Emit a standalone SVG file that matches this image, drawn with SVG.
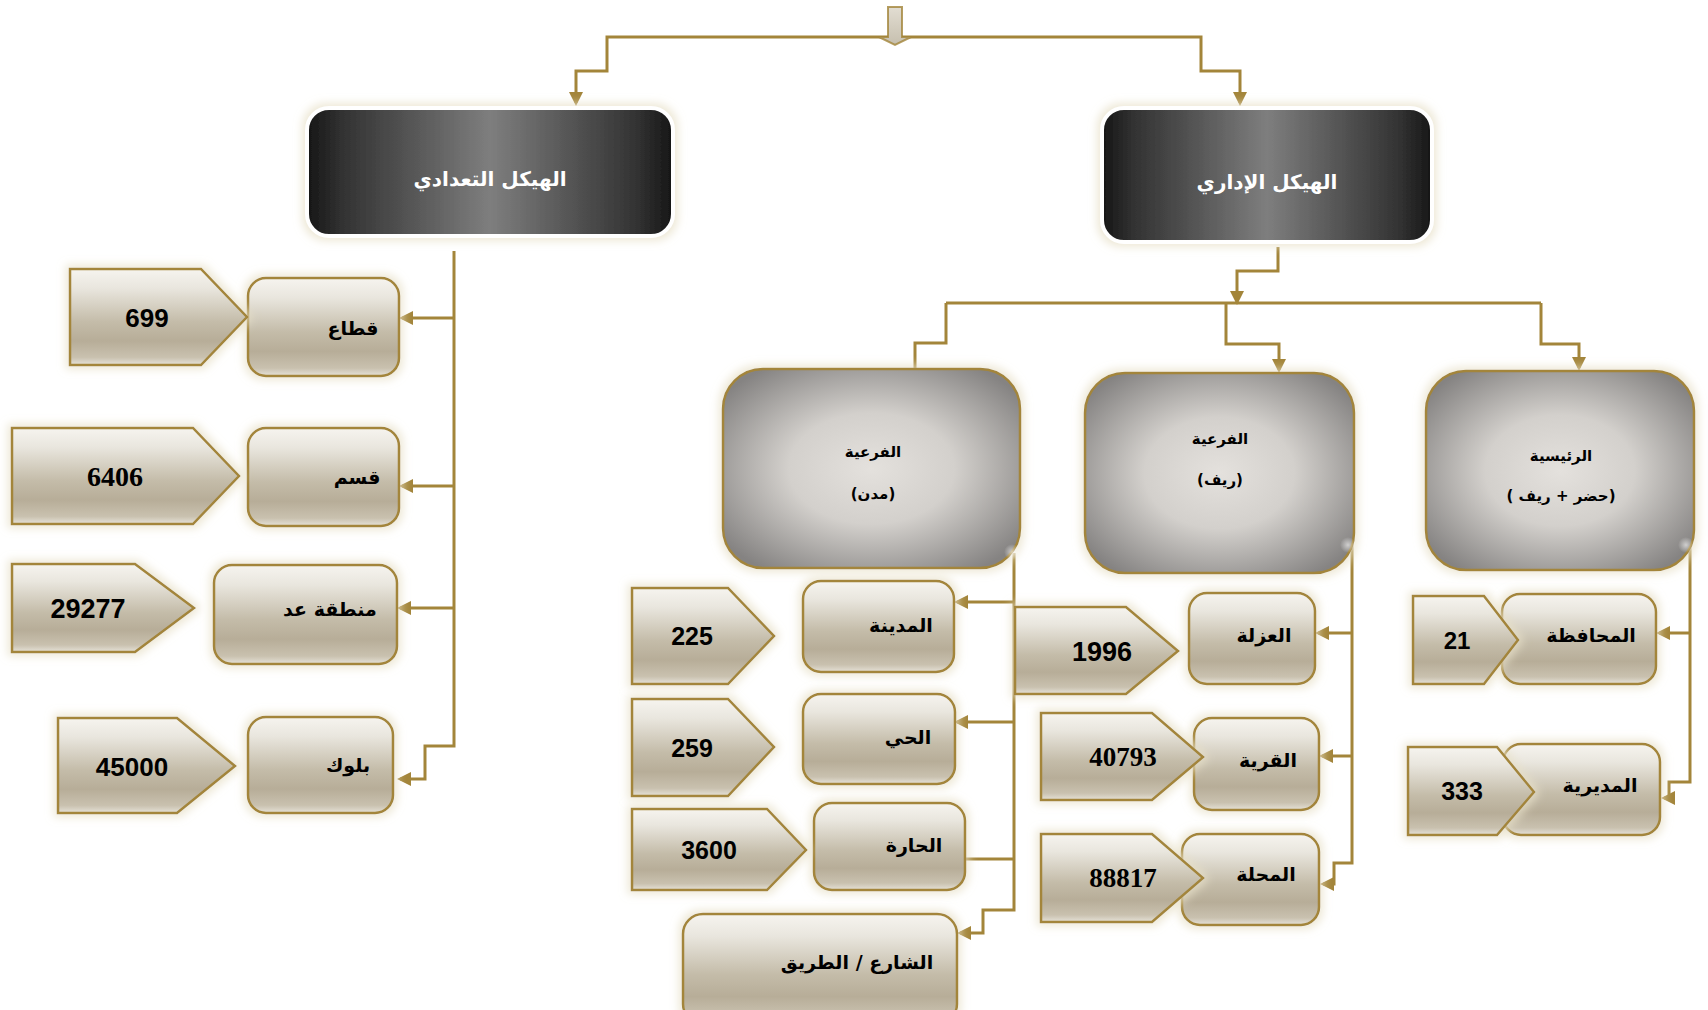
<svg xmlns="http://www.w3.org/2000/svg" width="1708" height="1010" viewBox="0 0 1708 1010">
<defs>
<linearGradient id="lg" x1="0" y1="0" x2="0" y2="1">
<stop offset="0" stop-color="#f6f4ef"/><stop offset="0.2" stop-color="#e9e6de"/><stop offset="0.55" stop-color="#c4bca9"/><stop offset="0.75" stop-color="#b7ad98"/><stop offset="0.92" stop-color="#c9c1af"/><stop offset="1" stop-color="#e6e2d8"/>
</linearGradient>
<linearGradient id="bg" x1="0" y1="0" x2="1" y2="0">
<stop offset="0" stop-color="#161616"/><stop offset="0.1" stop-color="#333"/><stop offset="0.5" stop-color="#7e7e7e"/><stop offset="0.9" stop-color="#333"/><stop offset="1" stop-color="#161616"/>
</linearGradient>
<radialGradient id="gg" cx="0.5" cy="0.5" r="0.62">
<stop offset="0" stop-color="#e4e1dd"/><stop offset="0.45" stop-color="#d3d0cc"/><stop offset="1" stop-color="#858382"/>
</radialGradient>
<radialGradient id="spot" cx="0.5" cy="0.5" r="0.5">
<stop offset="0" stop-color="#ffffff" stop-opacity="0.6"/><stop offset="1" stop-color="#ffffff" stop-opacity="0"/>
</radialGradient>
<linearGradient id="topg" x1="0" y1="0" x2="0" y2="1">
<stop offset="0" stop-color="#e2ddd2"/><stop offset="1" stop-color="#c6bfae"/>
</linearGradient>
<filter id="glow" x="-20%" y="-20%" width="140%" height="140%">
<feMorphology in="SourceAlpha" operator="dilate" radius="3" result="d"/>
<feGaussianBlur in="d" stdDeviation="4" result="b"/>
<feFlood flood-color="#e8e1c9" flood-opacity="0.75"/>
<feComposite in2="b" operator="in" result="g"/>
<feMerge><feMergeNode in="g"/><feMergeNode in="SourceGraphic"/></feMerge>
</filter>
<marker id="ah" viewBox="0 0 14 14" refX="11" refY="7" markerWidth="14" markerHeight="14" orient="auto" markerUnits="userSpaceOnUse">
<path d="M0,0 L14,7 L0,14 z" fill="#a3853a"/>
</marker>
<style>
.ln{fill:none;stroke:#a3853a;stroke-width:3}
.lb{fill:url(#lg);stroke:#a3853a;stroke-width:2.5;filter:url(#glow)}
.gb{fill:url(#gg);stroke:#a3853a;stroke-width:2.5;filter:url(#glow)}
.bb{fill:url(#bg);stroke:#ffffff;stroke-width:4;filter:url(#glow)}
.ar{font-family:"DejaVu Sans",sans-serif;font-weight:bold;fill:#000;text-anchor:middle;direction:rtl}
.tt{font-family:"DejaVu Sans",sans-serif;font-weight:bold;fill:#fff;text-anchor:middle;font-size:20px;direction:rtl}
.ns{font-family:"Liberation Sans",Arial,sans-serif;font-weight:bold;fill:#000;text-anchor:middle}
.nr{font-family:"Liberation Serif","Times New Roman",serif;font-weight:bold;fill:#000;text-anchor:middle}
</style>
</defs>
<rect width="1708" height="1010" fill="#ffffff"/>

<g id="connectors">
<path class="ln" d="M895,37 H607 V71 H576 V103" marker-end="url(#ah)"/>
<path class="ln" d="M895,37 H1201 V71 H1240 V103" marker-end="url(#ah)"/>
<path class="ln" d="M454,251 V746 H425 V779 H400" marker-end="url(#ah)"/>
<path class="ln" d="M454,318 H402" marker-end="url(#ah)"/>
<path class="ln" d="M454,486 H402" marker-end="url(#ah)"/>
<path class="ln" d="M454,608 H400" marker-end="url(#ah)"/>
<path class="ln" d="M1278,247 V271 H1237 V302" marker-end="url(#ah)"/>
<path class="ln" d="M946,303 H1541"/>
<path class="ln" d="M946,303 V343 H915 V369"/>
<path class="ln" d="M1226,303 V344 H1279 V370" marker-end="url(#ah)"/>
<path class="ln" d="M1541,303 V344 H1579 V368" marker-end="url(#ah)"/>
<path class="ln" d="M1014,553 V910 H983 V933 H960" marker-end="url(#ah)"/>
<path class="ln" d="M1014,602 H957" marker-end="url(#ah)"/>
<path class="ln" d="M1014,722 H957" marker-end="url(#ah)"/>
<path class="ln" d="M1014,859 H965"/>
<path class="ln" d="M1352,543 V863 H1334 V884 H1323" marker-end="url(#ah)"/>
<path class="ln" d="M1352,633 H1318" marker-end="url(#ah)"/>
<path class="ln" d="M1352,756 H1322" marker-end="url(#ah)"/>
<path class="ln" d="M1690,543 V782 H1669 V798 H1664" marker-end="url(#ah)"/>
<path class="ln" d="M1690,633 H1659" marker-end="url(#ah)"/>
</g>

<g id="top-arrow">
<path d="M888,7 H902 V37 H911 L895,45 L879,37 H888 Z" fill="url(#topg)" stroke="#a3853a" stroke-width="2" stroke-opacity="0.8"/>
</g>

<g id="census">
<rect class="bb" x="307" y="108" width="366" height="128" rx="22"/>
<text class="tt" x="490" y="186">الهيكل التعدادي</text>
</g>
<g id="admin">
<rect class="bb" x="1102" y="108" width="330" height="134" rx="22"/>
<text class="tt" x="1267" y="189">الهيكل الإداري</text>
</g>

<g id="n-qitaa">
<rect class="lb" x="248" y="278" width="151" height="98" rx="18"/>
<text class="ar" x="353" y="335" font-size="19">قطاع</text>
</g>
<g id="v-699">
<polygon class="lb" points="70,269 201,269 247,317 201,365 70,365"/>
<text class="ns" x="147" y="327" font-size="26">699</text>
</g>
<g id="n-qism">
<rect class="lb" x="248" y="428" width="151" height="98" rx="18"/>
<text class="ar" x="357" y="484" font-size="19">قسم</text>
</g>
<g id="v-6406">
<polygon class="lb" points="12,428 193,428 239,476 193,524 12,524"/>
<text class="nr" x="115" y="486" font-size="28">6406</text>
</g>
<g id="n-mantiqa">
<rect class="lb" x="214" y="565" width="183" height="99" rx="18"/>
<text class="ar" x="330" y="616" font-size="19">منطقة عد</text>
</g>
<g id="v-29277">
<polygon class="lb" points="12,564 135,564 194,608 135,652 12,652"/>
<text class="ns" x="88" y="618" font-size="27">29277</text>
</g>
<g id="n-block">
<rect class="lb" x="248" y="717" width="145" height="96" rx="18"/>
<text class="ar" x="348" y="772" font-size="19">بلوك</text>
</g>
<g id="v-45000">
<polygon class="lb" points="58,718 177,718 235,766 177,813 58,813"/>
<text class="ns" x="132" y="776" font-size="26">45000</text>
</g>

<g id="g-mudun">
<rect class="gb" x="723" y="369" width="297" height="199" rx="40"/>
<text class="ar" x="873" y="457" font-size="15">الفرعية</text>
<text class="ar" x="873" y="499" font-size="15">(مدن)</text>
</g>
<g id="g-reef">
<rect class="gb" x="1085" y="373" width="269" height="200" rx="40"/>
<text class="ar" x="1220" y="444" font-size="15">الفرعية</text>
<text class="ar" x="1220" y="485" font-size="15">(ريف)</text>
</g>
<g id="g-main">
<rect class="gb" x="1426" y="371" width="268" height="199" rx="40"/>
<text class="ar" x="1561" y="461" font-size="15">الرئيسية</text>
<text class="ar" x="1561" y="501" font-size="15">(حضر + ريف )</text>
</g>
<circle cx="1012" cy="552" r="8" fill="url(#spot)"/>
<circle cx="1348" cy="545" r="8" fill="url(#spot)"/>
<circle cx="1686" cy="545" r="8" fill="url(#spot)"/>

<g id="n-madina">
<rect class="lb" x="803" y="581" width="151" height="91" rx="18"/>
<text class="ar" x="901" y="632" font-size="19">المدينة</text>
</g>
<g id="v-225">
<polygon class="lb" points="632,588 728,588 774,636 728,684 632,684"/>
<text class="ns" x="692" y="645" font-size="25">225</text>
</g>
<g id="n-hay">
<rect class="lb" x="803" y="694" width="152" height="90" rx="18"/>
<text class="ar" x="908" y="744" font-size="19">الحي</text>
</g>
<g id="v-259">
<polygon class="lb" points="632,699 728,699 774,747 728,796 632,796"/>
<text class="ns" x="692" y="757" font-size="25">259</text>
</g>
<g id="n-hara">
<rect class="lb" x="814" y="803" width="151" height="87" rx="18"/>
<text class="ar" x="914" y="852" font-size="19">الحارة</text>
</g>
<g id="v-3600">
<polygon class="lb" points="632,809 767,809 806,850 767,890 632,890"/>
<text class="ns" x="709" y="859" font-size="25">3600</text>
</g>
<g id="n-street">
<rect class="lb" x="683" y="914" width="274" height="110" rx="20"/>
<text class="ar" x="857" y="969" font-size="19">الشارع / الطريق</text>
</g>

<g id="n-uzla">
<rect class="lb" x="1189" y="593" width="126" height="91" rx="18"/>
<text class="ar" x="1264" y="642" font-size="19">العزلة</text>
</g>
<g id="v-1996">
<polygon class="lb" points="1015,607 1126,607 1178,651 1126,694 1015,694"/>
<text class="ns" x="1102" y="661" font-size="27">1996</text>
</g>
<g id="n-qarya">
<rect class="lb" x="1194" y="718" width="125" height="92" rx="18"/>
<text class="ar" x="1268" y="767" font-size="19">القرية</text>
</g>
<g id="v-40793">
<polygon class="lb" points="1041,713 1152,713 1203,757 1152,800 1041,800"/>
<text class="nr" x="1123" y="766" font-size="27">40793</text>
</g>
<g id="n-mahalla">
<rect class="lb" x="1182" y="834" width="137" height="91" rx="18"/>
<text class="ar" x="1266" y="881" font-size="19">المحلة</text>
</g>
<g id="v-88817">
<polygon class="lb" points="1041,834 1152,834 1203,878 1152,922 1041,922"/>
<text class="nr" x="1123" y="887" font-size="27">88817</text>
</g>

<g id="n-muhafaza">
<rect class="lb" x="1502" y="594" width="154" height="90" rx="18"/>
<text class="ar" x="1591" y="642" font-size="19">المحافظة</text>
</g>
<g id="v-21">
<polygon class="lb" points="1413,596 1484,596 1518,640 1484,684 1413,684"/>
<text class="ns" x="1457" y="649" font-size="24">21</text>
</g>
<g id="n-mudiriya">
<rect class="lb" x="1503" y="744" width="157" height="91" rx="18"/>
<text class="ar" x="1600" y="792" font-size="19">المديرية</text>
</g>
<g id="v-333">
<polygon class="lb" points="1408,747 1497,747 1534,792 1497,835 1408,835"/>
<text class="ns" x="1462" y="800" font-size="25">333</text>
</g>
</svg>
